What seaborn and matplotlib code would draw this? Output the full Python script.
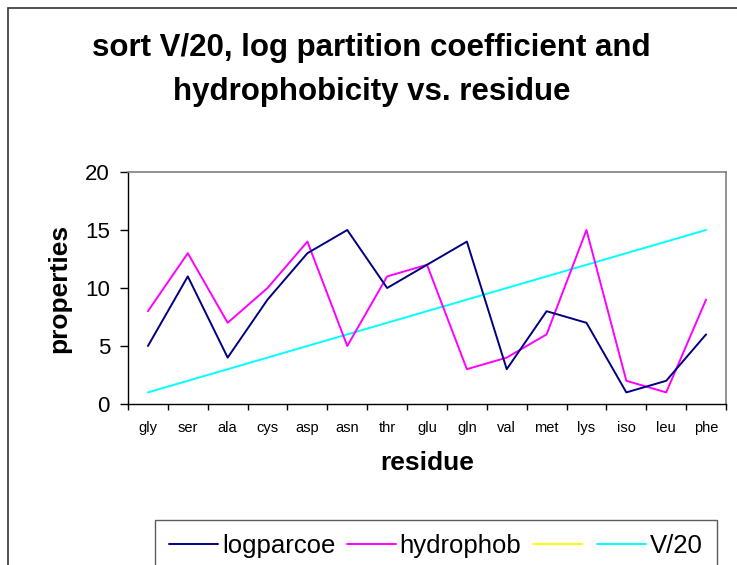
import numpy as np
import pandas as pd
import matplotlib
matplotlib.use("Agg")
import matplotlib.pyplot as plt
import seaborn as sns
from matplotlib.lines import Line2D
from matplotlib.patches import Rectangle
from matplotlib.ticker import FixedLocator, NullFormatter

residues = ["gly", "ser", "ala", "cys", "asp", "asn", "thr", "glu", "gln",
            "val", "met", "lys", "iso", "leu", "phe"]
logparcoe = [5, 11, 4, 9, 13, 15, 10, 12, 14, 3, 8, 7, 1, 2, 6]
hydrophob = [8, 13, 7, 10, 14, 5, 11, 12, 3, 4, 6, 15, 2, 1, 9]
v20 = [1, 2, 3, 4, 5, 6, 7, 8, 9, 10, 11, 12, 13, 14, 15]
series_names = ["logparcoe", "hydrophob", "", "V/20"]
series_colors = ["#000080", "#FF00FF", "#FFFF00", "#00FFFF"]
yticks = [0, 5, 10, 15, 20]

sns.set_theme(style="white")
plt.rcParams["font.family"] = ["Liberation Sans", "DejaVu Sans"]
plt.rcParams.update({"text.color": "black", "axes.labelcolor": "black",
                     "xtick.color": "black", "ytick.color": "black"})

pos = np.arange(len(residues))
df = pd.DataFrame({
    "pos": np.concatenate([pos, pos, pos]),
    "value": logparcoe + hydrophob + v20,
    "series": ["logparcoe"] * len(pos) + ["hydrophob"] * len(pos) + ["V/20"] * len(pos),
})

W, H = 737, 565
fig = plt.figure(figsize=(W / 100, H / 100), dpi=100)
ax = fig.add_axes([128 / W, 1 - 404 / H, (726 - 128) / W, (404 - 172) / H])

palette = {"logparcoe": series_colors[0], "hydrophob": series_colors[1], "V/20": series_colors[3]}
sns.lineplot(data=df, x="pos", y="value", hue="series", palette=palette,
             hue_order=["V/20", "hydrophob", "logparcoe"],
             linewidth=1.4, ax=ax, legend=False, sort=False)

ax.set_xlim(-0.5, len(residues) - 0.5)
ax.set_ylim(0, 20)
ax.set_yticks(yticks)
ax.set_yticklabels([str(t) for t in yticks], fontsize=16)
ax.set_xticks(pos)
ax.set_xticklabels(residues, fontsize=10.5)
ax.xaxis.set_minor_locator(FixedLocator(np.arange(-0.5, len(residues), 1.0)))
ax.xaxis.set_minor_formatter(NullFormatter())
ax.tick_params(axis="x", which="major", length=0, pad=12)
ax.tick_params(axis="x", which="minor", length=4.5, width=1, color="black", direction="out", bottom=True)
ax.tick_params(axis="y", which="major", length=6, width=1, color="black", direction="out", left=True, pad=7)

for side in ["left", "bottom"]:
    ax.spines[side].set_color("black")
    ax.spines[side].set_linewidth(1.0)
for side in ["top", "right"]:
    ax.spines[side].set_color("#808080")
    ax.spines[side].set_linewidth(1.2)
ax.grid(False)

ax.set_xlabel("residue", fontsize=19, fontweight="bold", labelpad=12)
ax.set_ylabel("properties", fontsize=19, fontweight="bold", labelpad=10)

fig.text(0.5 + 3 / W, 1 - 48 / H, "sort V/20, log partition coefficient and",
         ha="center", va="center", fontsize=22.5, fontweight="bold")
fig.text(0.5 + 3 / W, 1 - 92 / H, "hydrophobicity vs. residue",
         ha="center", va="center", fontsize=22.5, fontweight="bold")

# outer chart border (extends beyond figure on right and bottom)
fig.patches.append(Rectangle((8 / W, -0.1), 1.2, 1 - 8 / H + 0.1, transform=fig.transFigure,
                             fill=False, edgecolor="#333333", linewidth=1.2, zorder=0))

handles = [Line2D([], [], color=c, linewidth=1.4) for c in series_colors]
leg = fig.legend(handles, series_names, loc="upper left",
                 bbox_to_anchor=(155 / W, 1 - 520 / H), borderaxespad=0,
                 ncol=4, fontsize=18.5,
                 frameon=True, fancybox=False, handlelength=1.9, handletextpad=0.15,
                 columnspacing=0.45, borderpad=0.55)
leg.get_frame().set_edgecolor("#333333")
leg.get_frame().set_linewidth(1.0)

fig.savefig("out.png", dpi=100)
